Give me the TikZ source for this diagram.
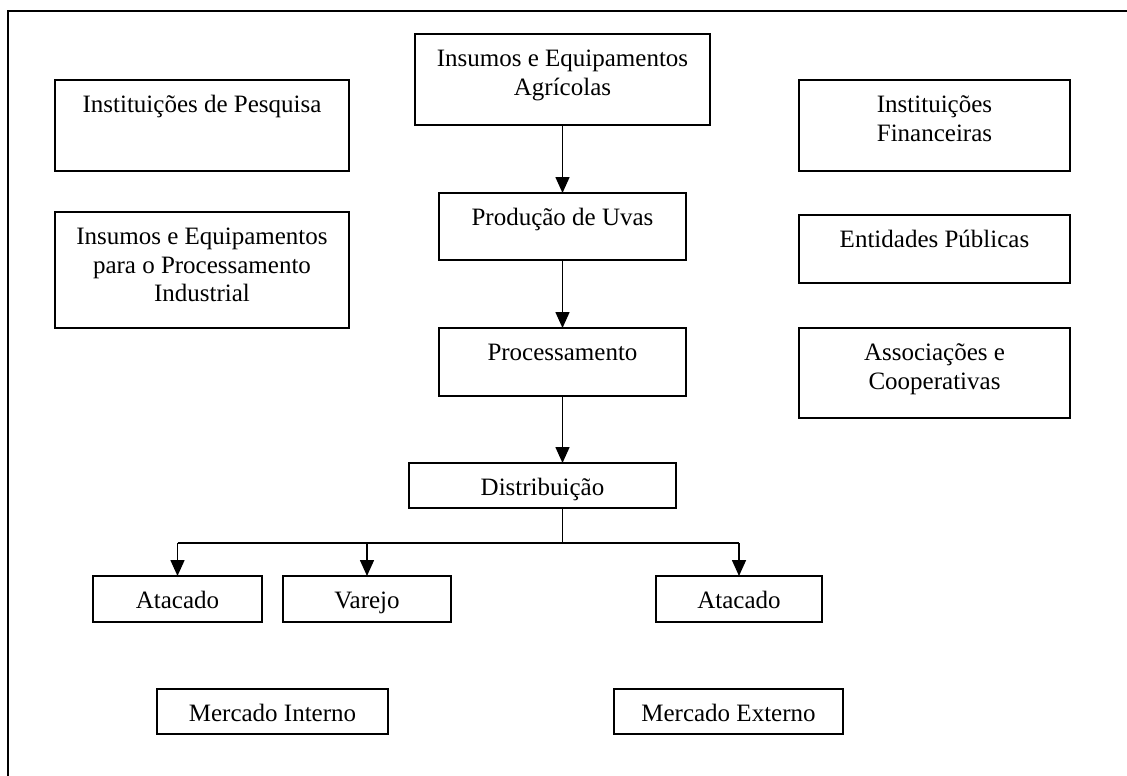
\documentclass[tikz,border=0pt]{standalone}
\usepackage{fontspec}
\setmainfont{Liberation Serif}
\usetikzlibrary{arrows.meta}
\newcommand{\bx}[3]{\parbox[c][#2][t]{#1}{\centering\rule{0pt}{32.5pt}#3}}
\begin{document}
\begin{tikzpicture}[x=1pt,y=-1pt,
  box/.style={draw, line width=1.6pt, inner sep=0pt, outer sep=0pt, anchor=north west,
    font=\fontsize{25}{28.6}\selectfont},
  arr/.style={line width=1.6pt, -{Triangle[length=16pt,width=14pt]}},
  ln/.style={line width=1.6pt}]
\useasboundingbox (0,0) rectangle (1127,776);
\draw[line width=2.2pt] (8,776) -- (8,11) -- (1127,11);
\node[box] (ip)  at (55,80)   {\bx{294pt}{91pt}{Instituições de Pesquisa}};
\node[box] (ipi) at (55,212)  {\bx{294pt}{116pt}{Insumos e Equipamentos\\para o Processamento\\Industrial}};
\node[box] (iea) at (415,34)  {\bx{295pt}{91pt}{Insumos e Equipamentos\\Agrícolas}};
\node[box] (pu)  at (439,193) {\bx{247pt}{67pt}{Produção de Uvas}};
\node[box] (pr)  at (439,328) {\bx{247pt}{68pt}{Processamento}};
\node[box] (di)  at (409,463) {\bx{267pt}{45pt}{Distribuição}};
\node[box] (at1) at (93,576)  {\bx{169pt}{46pt}{Atacado}};
\node[box] (va)  at (283,576) {\bx{168pt}{46pt}{Varejo}};
\node[box] (at2) at (656,576) {\bx{166pt}{46pt}{Atacado}};
\node[box] (mi)  at (157,689) {\bx{231pt}{45pt}{Mercado Interno}};
\node[box] (me)  at (614,689) {\bx{229pt}{45pt}{Mercado Externo}};
\node[box] (if)  at (799,80)  {\bx{271pt}{91pt}{Instituições\\Financeiras}};
\node[box] (ep)  at (799,215) {\bx{271pt}{68pt}{Entidades Públicas}};
\node[box] (ac)  at (799,328) {\bx{271pt}{90pt}{Associações e\\Cooperativas}};
\coordinate (bus) at (562.5,543);
\draw[arr] (iea.south) -- (pu.north);
\draw[arr] (pu.south) -- (pr.north);
\draw[arr] (pr.south) -- (pr.south |- di.north);
\draw[ln] (di.south -| bus) -- (bus);
\draw[ln] (at1.north |- bus) -- (at2.north |- bus);
\draw[arr] (at1.north |- bus) -- (at1.north);
\draw[arr] (va.north |- bus) -- (va.north);
\draw[arr] (at2.north |- bus) -- (at2.north);
\end{tikzpicture}
\end{document}
